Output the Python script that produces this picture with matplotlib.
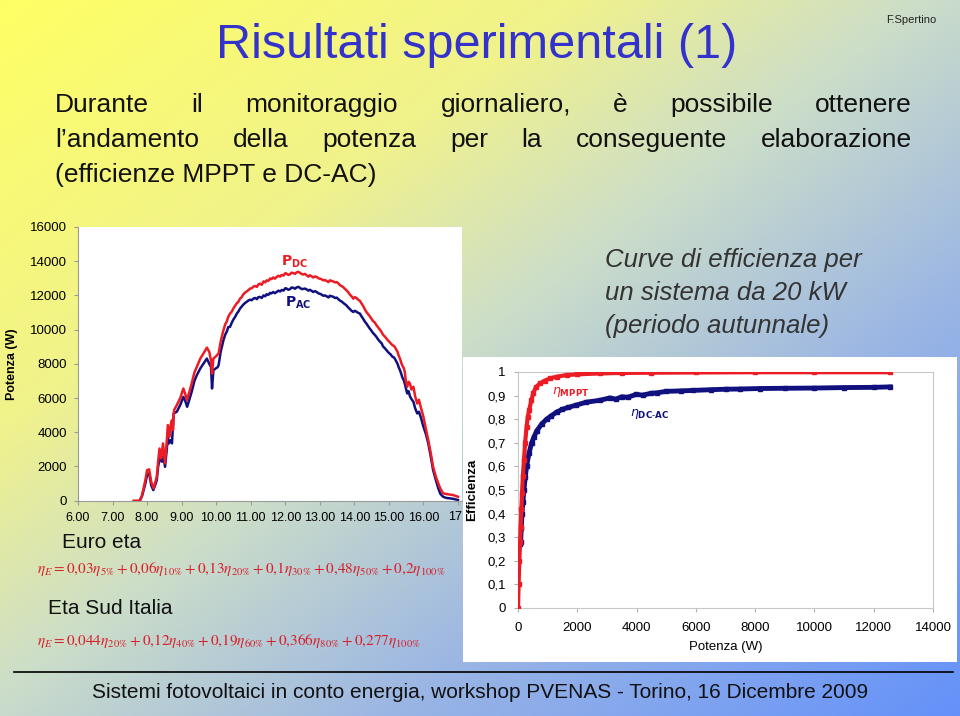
import numpy as np
import matplotlib
matplotlib.use('Agg')
import matplotlib.pyplot as plt
from matplotlib.patches import Rectangle
from matplotlib.lines import Line2D

# ---------------- data ----------------
# Left chart: daily power (hours, W)
t_dc = [7.61, 7.80, 7.85, 7.95, 8.00, 8.06, 8.12, 8.19, 8.24, 8.28, 8.32, 8.36, 8.41, 8.46, 8.52,
        8.57, 8.60, 8.65, 8.69, 8.72, 8.75, 8.78, 8.86, 8.96, 9.05, 9.11, 9.15, 9.23, 9.29, 9.37,
        9.44, 9.54, 9.63, 9.73, 9.80, 9.85, 9.88, 9.92,
        10.00, 10.04, 10.07, 10.10, 10.13, 10.17, 10.21, 10.26, 10.31, 10.35, 10.40, 10.45, 10.50,
        10.55, 10.60, 10.64, 10.69, 10.74, 10.78, 10.83, 10.88, 10.93, 10.98, 11.03, 11.08, 11.13,
        11.18, 11.22, 11.27, 11.32, 11.37, 11.42, 11.46, 11.51, 11.56, 11.60, 11.65, 11.70, 11.75,
        11.80, 11.85, 11.90, 11.95, 12.00, 12.04, 12.09, 12.14, 12.18, 12.23, 12.28, 12.33, 12.38,
        12.43, 12.48, 12.52, 12.57, 12.62, 12.67, 12.71, 12.76, 12.81, 12.86, 12.91, 12.96, 13.00,
        13.05, 13.10, 13.15, 13.20, 13.25, 13.29, 13.34, 13.39, 13.44, 13.49, 13.54, 13.58, 13.63,
        13.68, 13.72, 13.77, 13.82, 13.87, 13.92, 13.97, 14.01, 14.06, 14.11, 14.16, 14.20, 14.25,
        14.30, 14.35, 14.40, 14.44, 14.49, 14.54, 14.59, 14.64, 14.69, 14.74, 14.79, 14.83, 14.88,
        14.93, 14.98, 15.02, 15.05, 15.10, 15.14, 15.17, 15.21, 15.25, 15.28, 15.32, 15.36, 15.39,
        15.43, 15.46, 15.49, 15.53, 15.57, 15.61, 15.65, 15.71, 15.76, 15.82, 15.87, 15.92,
        16.00, 16.07, 16.14, 16.21, 16.28, 16.36, 16.43, 16.49, 16.57, 16.66, 16.76, 16.86, 17.00]
p_dc = [0, 0, 300, 1200, 1790, 1830, 1100, 720, 1100, 1400, 2300, 3050, 2470, 3350, 2180,
        3500, 4420, 3740, 4500, 4710, 4130, 5290, 5590, 6000, 6560, 6200, 5880, 6400, 6850, 7500,
        7820, 8310, 8600, 8950, 8700, 8200, 7430, 8310,
        8450, 8550, 8600, 8950, 9300, 9650, 9960, 10300, 10500, 10750, 10940, 11050, 11250,
        11400, 11550, 11620, 11810, 11900, 12050, 12150, 12230, 12300, 12400, 12420, 12520, 12550,
        12500, 12640, 12690, 12620, 12820, 12760, 12880, 12850, 12990, 12950, 13050, 12980, 13080,
        13150, 13100, 13200, 13160, 13300, 13270, 13200, 13240, 13330, 13310, 13260, 13350, 13380,
        13310, 13250, 13220, 13260, 13170, 13100, 13180, 13120, 13050, 13110, 13080, 13000, 12980,
        12950, 12880, 12900, 12840, 12780, 12880, 12850, 12820, 12760, 12780, 12700, 12600, 12550,
        12480, 12400, 12300, 12200, 12050, 11950, 11810, 11900, 11850, 11750, 11680, 11560, 11400,
        11200, 11030, 10900, 10800, 10650, 10500, 10420, 10260, 10120, 10000, 9850, 9700, 9600,
        9480, 9350, 9280, 9200, 9100, 9050, 8990, 8850, 8700, 8500, 8310, 8050, 7900,
        7750, 7530, 7000, 6660, 6950, 6850, 6500, 6660, 6100, 5680, 5900, 5490,
        4900, 4200, 3540, 2800, 1980, 1400, 1010, 700, 430, 390, 360, 330, 230]

t_ac = [7.78, 7.85, 7.95, 8.00, 8.06, 8.12, 8.18, 8.24, 8.28, 8.32, 8.38, 8.43, 8.47, 8.52, 8.57,
        8.60, 8.63, 8.68, 8.72, 8.77, 8.86, 8.96, 9.05, 9.11, 9.16, 9.23, 9.29, 9.37, 9.44, 9.54,
        9.63, 9.73, 9.80, 9.85, 9.88, 9.92,
        10.00, 10.04, 10.07, 10.10, 10.13, 10.17, 10.21, 10.26, 10.31, 10.35, 10.40, 10.45, 10.50,
        10.55, 10.60, 10.64, 10.69, 10.74, 10.78, 10.83, 10.88, 10.93, 10.98, 11.03, 11.08, 11.13,
        11.18, 11.22, 11.27, 11.32, 11.37, 11.42, 11.46, 11.51, 11.56, 11.60, 11.65, 11.70, 11.75,
        11.80, 11.85, 11.90, 11.95, 12.00, 12.04, 12.09, 12.14, 12.18, 12.23, 12.28, 12.33, 12.38,
        12.43, 12.48, 12.52, 12.57, 12.62, 12.67, 12.71, 12.76, 12.81, 12.86, 12.91, 12.96, 13.00,
        13.05, 13.10, 13.15, 13.20, 13.25, 13.29, 13.34, 13.39, 13.44, 13.49, 13.54, 13.58, 13.63,
        13.68, 13.72, 13.77, 13.82, 13.87, 13.92, 13.97, 14.01, 14.06, 14.11, 14.16, 14.20, 14.25,
        14.30, 14.35, 14.40, 14.44, 14.49, 14.54, 14.59, 14.64, 14.69, 14.74, 14.79, 14.83, 14.88,
        14.93, 14.98, 15.02, 15.05, 15.10, 15.14, 15.17, 15.21, 15.25, 15.28, 15.32, 15.36, 15.39,
        15.43, 15.46, 15.50, 15.53, 15.57, 15.61, 15.65, 15.71, 15.76, 15.82, 15.87, 15.92,
        16.00, 16.07, 16.14, 16.21, 16.28, 16.36, 16.43, 16.49, 16.57, 16.66, 16.76, 16.86, 17.00]
p_ac = [0, 250, 1000, 1500, 1600, 900, 620, 950, 1200, 2000, 2570, 2280, 2570, 1980, 3000,
        3740, 3350, 3540, 3350, 5100, 5200, 5600, 6070, 5800, 5490, 5950, 6360, 7000, 7340, 7730,
        8000, 8310, 8000, 7820, 6560, 7630,
        7750, 7800, 7920, 8300, 8700, 9050, 9380, 9700, 9900, 10150, 10160, 10400, 10600,
        10750, 10950, 11050, 11230, 11350, 11450, 11550, 11620, 11700, 11750, 11720, 11820, 11850,
        11780, 11900, 11910, 11850, 12000, 11950, 12070, 12030, 12150, 12120, 12200, 12130, 12200,
        12280, 12230, 12320, 12280, 12420, 12400, 12330, 12370, 12460, 12450, 12390, 12470, 12500,
        12430, 12370, 12380, 12400, 12350, 12280, 12330, 12270, 12200, 12250, 12200, 12120, 12100,
        12050, 11980, 12000, 11950, 11880, 11980, 11950, 11920, 11850, 11870, 11780, 11700, 11650,
        11560, 11500, 11420, 11300, 11200, 11100, 11030, 11100, 11050, 10980, 10940, 10800, 10650,
        10480, 10350, 10200, 10080, 9950, 9800, 9700, 9570, 9420, 9300, 9200, 9020, 8920,
        8800, 8680, 8600, 8550, 8420, 8380, 8310, 8150, 8000, 7820, 7630, 7400, 7200,
        7050, 6850, 6500, 6270, 6400, 6100, 5950, 5780, 5400, 5100, 5200, 4900,
        4320, 3900, 3350, 2600, 1790, 1200, 720, 400, 230, 160, 140, 110, 40]

hour_ticks = [6, 7, 8, 9, 10, 11, 12, 13, 14, 15, 16, 17]
hour_labels = ["6.00", "7.00", "8.00", "9.00", "10.00", "11.00", "12.00", "13.00",
               "14.00", "15.00", "16.00", ""]
last_hour_label = "17"
power_ticks = [0, 2000, 4000, 6000, 8000, 10000, 12000, 14000, 16000]

# Right chart: efficiency vs power
pw_mppt = [0, 20, 45, 70, 90, 115, 135, 165, 200, 240, 290, 330, 380, 450, 515, 600, 740, 900,
           1075, 1300, 1640, 2000, 2760, 3500, 4500, 6000, 8000, 10000, 12560]
eff_mppt = [0.0, 0.10, 0.20, 0.28, 0.345, 0.42, 0.486, 0.56, 0.627, 0.70, 0.768, 0.81, 0.84, 0.88,
            0.91, 0.935, 0.952, 0.963, 0.973, 0.98, 0.987, 0.99, 0.994, 0.996, 0.997, 0.998, 0.999,
            0.999, 0.999]
pw_dcac = [80, 90, 110, 135, 165, 200, 245, 290, 370, 460, 540, 630, 800, 965, 1130, 1300, 1500,
           1700, 1970, 2300, 2760, 3090, 3300, 3500, 3700, 3990, 4200, 4500, 4700, 5000, 5500,
           5910, 6500, 7000, 7500, 8160, 9000, 10000, 11000, 12000, 12560]
eff_dcac = [0.27, 0.28, 0.34, 0.40, 0.45, 0.50, 0.555, 0.60, 0.655, 0.70, 0.725, 0.75, 0.78, 0.80,
            0.815, 0.83, 0.842, 0.85, 0.86, 0.872, 0.88, 0.89, 0.885, 0.895, 0.893, 0.905, 0.902,
            0.91, 0.912, 0.918, 0.92, 0.922, 0.925, 0.927, 0.928, 0.93, 0.931, 0.932, 0.934, 0.935,
            0.937]
eff_ticks = [0, 0.1, 0.2, 0.3, 0.4, 0.5, 0.6, 0.7, 0.8, 0.9, 1.0]
eff_labels = ["0", "0,1", "0,2", "0,3", "0,4", "0,5", "0,6", "0,7", "0,8", "0,9", "1"]
pw_ticks = [0, 2000, 4000, 6000, 8000, 10000, 12000, 14000]

# ---------------- figure ----------------
W, H = 960, 716
fig = plt.figure(figsize=(9.6, 7.16), dpi=100)
plt.rcParams['mathtext.fontset'] = 'stix'
SANS = ['Liberation Sans', 'DejaVu Sans']
RED = '#ec1c24'
NAVY = '#10107e'


def fx(x):
    return x / W


def fy(y):
    return 1 - y / H


# background gradient
bg = fig.add_axes([0, 0, 1, 1], zorder=-10)
xx, yy = np.meshgrid(np.linspace(0, 1, W), np.linspace(0, 1, H))
tt = 0.5 * xx + 0.5 * yy
stops = [0.0, 0.3, 0.48, 0.7, 1.0]
cols = np.array([[255, 255, 100], [240, 242, 140], [205, 222, 200], [155, 182, 228],
                 [100, 145, 250]]) / 255.0
img = np.dstack([np.interp(tt, stops, cols[:, i]) for i in range(3)])
bg.imshow(img, aspect='auto', extent=[0, 1, 0, 1], origin='upper')
bg.set_xlim(0, 1)
bg.set_ylim(0, 1)
bg.axis('off')

# ---------- left chart ----------
axL = fig.add_axes([fx(78), fy(500.7), 384 / W, 273.7 / H], zorder=0)
axL.set_facecolor('white')
axL.plot(t_dc, p_dc, color=RED, lw=1.8, zorder=3)
axL.plot(t_ac, p_ac, color=NAVY, lw=1.8, zorder=2)
axL.set_xlim(6, 17.116)
axL.set_ylim(0, 16000)
axL.set_xticks(hour_ticks)
axL.set_xticklabels(hour_labels)
axL.set_yticks(power_ticks)
for s in ['top', 'right']:
    axL.spines[s].set_visible(False)
for s in ['left', 'bottom']:
    axL.spines[s].set_color('#9a9a9a')
axL.tick_params(axis='both', colors='#9a9a9a', labelcolor='black', length=3, direction='out')
axL.tick_params(axis='x', pad=5, labelsize=9)
axL.tick_params(axis='y', pad=5, labelsize=9.5)
for lb in axL.get_xticklabels() + axL.get_yticklabels():
    lb.set_family(SANS)
axL.text(1.0, -0.06, last_hour_label, transform=axL.transAxes, ha='right', va='center',
         fontsize=9, family=SANS)
axL.set_ylabel('Potenza (W)', fontsize=9, fontweight='bold', family=SANS)
axL.yaxis.set_label_coords((18 - 78) / 384, 0.5)
axL.text(12.28, 13950, r'$\mathbf{P_{DC}}$', color=RED, ha='center', va='center', fontsize=10,
         math_fontfamily='dejavusans')
axL.text(12.37, 11550, r'$\mathbf{P_{AC}}$', color=NAVY, ha='center', va='center', fontsize=10,
         math_fontfamily='dejavusans')

# white panel behind right chart
fig.patches.append(Rectangle((fx(463), fy(662)), 494 / W, 305 / H, transform=fig.transFigure,
                             facecolor='white', edgecolor='none', zorder=1))

# ---------- right chart ----------
axR = fig.add_axes([fx(518), fy(608), 415 / W, 236 / H], zorder=2)
axR.set_facecolor('white')
axR.plot(pw_dcac, eff_dcac, color=NAVY, lw=3.5, marker='s', ms=2.5, zorder=2)
axR.plot(pw_mppt, eff_mppt, color=RED, lw=3.0, marker='s', ms=3, zorder=3)
axR.set_xlim(0, 14000)
axR.set_ylim(0, 1)
axR.set_xticks(pw_ticks)
axR.set_yticks(eff_ticks)
axR.set_yticklabels(eff_labels)
for s in axR.spines.values():
    s.set_color('#c8c8c8')
axR.tick_params(axis='both', colors='#b0b0b0', labelcolor='black', labelsize=9.5, length=3,
                direction='out')
axR.tick_params(axis='x', pad=7)
axR.tick_params(axis='y', pad=6)
for lb in axR.get_xticklabels() + axR.get_yticklabels():
    lb.set_family(SANS)
axR.set_ylabel('Efficienza', fontsize=9.5, fontweight='bold', family=SANS)
axR.yaxis.set_label_coords((478 - 518) / 415, 0.5)
axR.set_xlabel('Potenza (W)', fontsize=9.5, family=SANS, labelpad=5)
axR.text(1136, 0.915, r'$\eta_{\mathbf{MPPT}}$', color=RED, ha='left', va='center', fontsize=9,
         math_fontfamily='dejavusans')
axR.text(3780, 0.822, r'$\eta_{\mathbf{DC\text{-}AC}}$', color=NAVY, ha='left', va='center',
         fontsize=9, math_fontfamily='dejavusans')

# ---------- texts ----------
fig.text(fx(936), fy(20), 'F.Spertino', ha='right', va='center', fontsize=8, family=SANS,
         color='#222222')
fig.text(fx(477), fy(45), 'Risultati sperimentali (1)', ha='center', va='center', fontsize=35,
         family=SANS, color='#3333cc')

renderer = fig.canvas.get_renderer()


def justify(line, y, x0, x1, **kw):
    words = line.split()
    texts = [fig.text(0, fy(y), w, ha='left', va='center', **kw) for w in words]
    widths = [t.get_window_extent(renderer).width for t in texts]
    gap = (x1 - x0 - sum(widths)) / (len(words) - 1)
    x = x0
    for t, w in zip(texts, widths):
        t.set_x(fx(x))
        x += w + gap


body_kw = dict(fontsize=19, family=SANS, color='#111111')
justify("Durante il monitoraggio giornaliero, è possibile ottenere", 105, 55, 912, **body_kw)
justify("l\u2019andamento della potenza per la conseguente elaborazione", 140, 55, 912, **body_kw)
fig.text(fx(55), fy(175), "(efficienze MPPT e DC-AC)", ha='left', va='center', **body_kw)

curve_kw = dict(fontsize=18.5, family=SANS, style='italic', color='#333333', ha='left',
                va='center')
fig.text(fx(605), fy(260), 'Curve di efficienza per', **curve_kw)
fig.text(fx(605), fy(293), 'un sistema da 20 kW', **curve_kw)
fig.text(fx(605), fy(326), '(periodo autunnale)', **curve_kw)

fig.text(fx(62), fy(543), 'Euro eta', ha='left', va='center', fontsize=15, family=SANS,
         color='#111111')
fig.text(fx(37), fy(569),
         r'$\eta_E = 0{,}03\eta_{5\%} + 0{,}06\eta_{10\%} + 0{,}13\eta_{20\%} + 0{,}1\eta_{30\%}'
         r' + 0{,}48\eta_{50\%} + 0{,}2\eta_{100\%}$',
         ha='left', va='center', fontsize=11, color='#d8202a')
fig.text(fx(48), fy(608), 'Eta Sud Italia', ha='left', va='center', fontsize=15, family=SANS,
         color='#111111')
fig.text(fx(37), fy(641),
         r'$\eta_E = 0{,}044\eta_{20\%} + 0{,}12\eta_{40\%} + 0{,}19\eta_{60\%} + 0{,}366\eta_{80\%}'
         r' + 0{,}277\eta_{100\%}$',
         ha='left', va='center', fontsize=11, color='#d8202a')

# footer
fig.add_artist(Line2D([fx(14), fx(953)], [fy(672), fy(672)], transform=fig.transFigure,
                      color='black', lw=1.2))
fig.text(fx(480), fy(693),
         'Sistemi fotovoltaici in conto energia, workshop PVENAS - Torino, 16 Dicembre 2009',
         ha='center', va='center', fontsize=15, family=SANS, color='#111111')

fig.savefig('out.png', dpi=100)
